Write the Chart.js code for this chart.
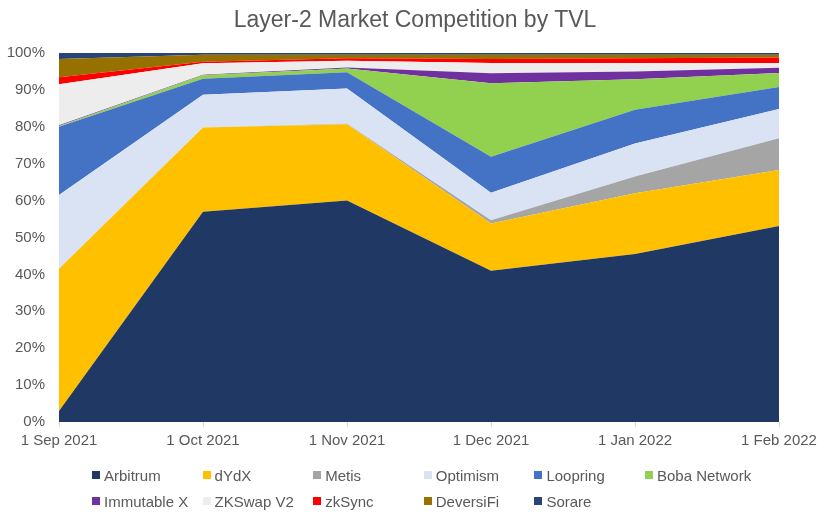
<!DOCTYPE html>
<html>
<head>
<meta charset="utf-8">
<script src="https://cdn.jsdelivr.net/npm/chart.js@4.4.1/dist/chart.umd.min.js"></script>
<style>
  html, body { margin: 0; padding: 0; background: #fff; }
  #wrap { position: relative; width: 828px; height: 515px; font-family: "Liberation Sans", Arial, sans-serif; }
  #title { position: absolute; left: 0; top: 8px; width: 830px; text-align: center; color: #595959; font-size: 23px; line-height: 23px; }
  #legend { position: absolute; left: 92px; top: 462px; width: 700px; color: #595959; font-size: 15px; }
  .row { height: 26px; display: flex; }
  .item { width: 110.6px; display: flex; align-items: center; white-space: nowrap; }
  .box { width: 8px; height: 8px; margin-right: 4px; flex: none; }
</style>
</head>
<body>
<div id="wrap">
  <canvas id="chart" width="828" height="515"></canvas>
  <div id="title">Layer-2 Market Competition by TVL</div>
  <div id="legend"></div>
</div>
<script>
// categories
const months = ['1 Sep 2021', '1 Oct 2021', '1 Nov 2021', '1 Dec 2021', '1 Jan 2022', '1 Feb 2022'];

// share of TVL (%), bottom of the stack first
const arbitrum   = [3,    57,   60,   41,   45.5, 53.1];
const dydx       = [38.5, 22.8, 20.7, 12.8, 16.5, 15.2];
const metis      = [0,    0,    0.1,  0.9,  4.5,  8.6];
const optimism   = [20,   8.9,  9.6,  7.4,  9,    7.9];
const loopring   = [18.5, 4.3,  4.4,  9.8,  9.1,  6];
const boba       = [0.2,  1,    1,    19.9, 8.3,  3.8];
const immutableX = [0.2,  0.1,  0.3,  2.7,  2.1,  1.4];
const zkswapV2   = [11.1, 3.1,  1.8,  2.8,  2.3,  1.3];
const zksync     = [1.9,  0.4,  0.7,  1.1,  1.3,  1.5];
const deversifi  = [5,    1.9,  0.9,  1.1,  0.9,  0.7];
const sorare     = [1.6,  0.5,  0.5,  0.5,  0.5,  0.5];

const seriesNames = ['Arbitrum', 'dYdX', 'Metis', 'Optimism', 'Loopring', 'Boba Network',
                     'Immutable X', 'ZKSwap V2', 'zkSync', 'DeversiFi', 'Sorare'];
const seriesData = [arbitrum, dydx, metis, optimism, loopring, boba, immutableX, zkswapV2, zksync, deversifi, sorare];
const seriesColors = ['#203864', '#FFC000', '#A5A5A5', '#DAE3F3', '#4472C4', '#92D050',
                      '#7030A0', '#EDEDED', '#FF0000', '#977100', '#264478'];

const yTicks = [0, 10, 20, 30, 40, 50, 60, 70, 80, 90, 100];

const datasets = seriesNames.map((name, i) => ({
  label: name,
  data: seriesData[i],
  backgroundColor: seriesColors[i],
  borderColor: seriesColors[i],
  borderWidth: 0,
  pointRadius: 0,
  tension: 0,
  fill: i === 0 ? 'origin' : '-1'
}));

const grey = '#595959';
const font = 'Liberation Sans, Arial, sans-serif';

new Chart(document.getElementById('chart').getContext('2d'), {
  type: 'line',
  data: { labels: months, datasets },
  options: {
    responsive: false,
    animation: false,
    layout: { padding: { left: 0, right: 49, top: 53, bottom: 63 } },
    scales: {
      x: {
        offset: false,
        grid: { display: true, drawOnChartArea: false, drawTicks: true, tickLength: 5, color: '#D9D9D9' },
        border: { display: false },
        ticks: { color: grey, font: { family: font, size: 15 }, padding: 5, maxRotation: 0 },
        afterFit: (s) => { s.height = 30; }
      },
      y: {
        stacked: true,
        min: 0,
        max: 100,
        afterBuildTicks: (s) => { s.ticks = yTicks.map(v => ({ value: v })); },
        grid: { display: false, drawTicks: false },
        border: { display: false },
        ticks: { color: grey, font: { family: font, size: 15 }, padding: 14, callback: v => v + '%' },
        afterFit: (s) => { s.width = 59; }
      }
    },
    plugins: {
      legend: { display: false },
      tooltip: { enabled: false },
      title: { display: false }
    }
  }
});

// legend laid out in fixed columns, six per row
const legend = document.getElementById('legend');
for (let r = 0; r < seriesNames.length; r += 6) {
  const row = document.createElement('div');
  row.className = 'row';
  seriesNames.slice(r, r + 6).forEach((name, k) => {
    const item = document.createElement('div');
    item.className = 'item';
    item.innerHTML = `<span class="box" style="background:${seriesColors[r + k]}"></span><span>${name}</span>`;
    row.appendChild(item);
  });
  legend.appendChild(row);
}
</script>
</body>
</html>
